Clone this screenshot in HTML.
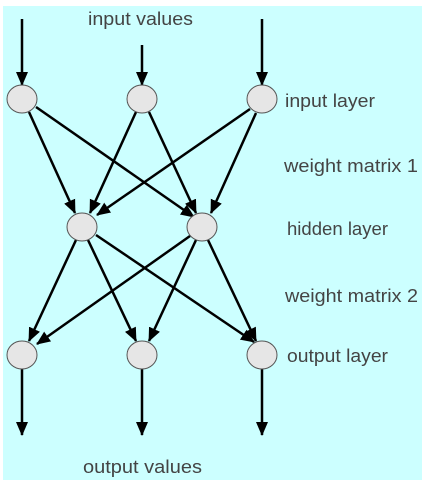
<!DOCTYPE html>
<html><head><style>
html,body{margin:0;padding:0;background:#fff;}
svg{display:block}
text{font-family:"Liberation Sans",sans-serif;font-size:18px;fill:#444;}
</style></head><body>
<svg width="428" height="486" viewBox="0 0 428 486">
<defs>
<marker id="b" markerWidth="14" markerHeight="14" refX="13" refY="7" orient="auto" markerUnits="userSpaceOnUse" viewBox="0 0 14 14"><path d="M0,1 L14,7 L0,13 z" fill="#000"/></marker></defs>
<rect x="3" y="6" width="419" height="474" fill="#ccffff"/>
<g stroke="#000" stroke-width="2.5" fill="none" marker-end="url(#b)">
<line x1="22" y1="19" x2="22" y2="85"/>
<line x1="142" y1="45" x2="142" y2="85"/>
<line x1="262" y1="19" x2="262" y2="85"/>
<line x1="29" y1="112" x2="75" y2="213"/>
<line x1="36" y1="107" x2="194" y2="217"/>
<line x1="136" y1="112" x2="90" y2="213"/>
<line x1="149" y1="112" x2="196" y2="213"/>
<line x1="250" y1="109" x2="97" y2="215"/>
<line x1="256" y1="113" x2="211" y2="213"/>
<line x1="76" y1="240" x2="29" y2="341"/>
<line x1="88" y1="240" x2="136" y2="341"/>
<line x1="96" y1="235" x2="254" y2="342"/>
<line x1="190" y1="236" x2="37" y2="344"/>
<line x1="196" y1="240" x2="149" y2="341"/>
<line x1="208" y1="240" x2="256" y2="341"/>
<line x1="22" y1="369" x2="22" y2="435"/>
<line x1="142" y1="369" x2="142" y2="435"/>
<line x1="262" y1="369" x2="262" y2="435"/>
</g>
<g fill="#e6e6e6" stroke="#555" stroke-width="1">
<ellipse cx="22" cy="99" rx="15" ry="14"/>
<ellipse cx="142" cy="99" rx="15" ry="14"/>
<ellipse cx="262" cy="99" rx="15" ry="14"/>
<ellipse cx="82" cy="227" rx="15" ry="14"/>
<ellipse cx="202" cy="227" rx="15" ry="14"/>
<ellipse cx="22" cy="355" rx="15" ry="14"/>
<ellipse cx="142" cy="355" rx="15" ry="14"/>
<ellipse cx="262" cy="355" rx="15" ry="14"/>
</g>
<text x="88" y="25" textLength="105" lengthAdjust="spacingAndGlyphs">input values</text>
<text x="285" y="107" textLength="90" lengthAdjust="spacingAndGlyphs">input layer</text>
<text x="284" y="172" textLength="134" lengthAdjust="spacingAndGlyphs">weight matrix 1</text>
<text x="287" y="235" textLength="101" lengthAdjust="spacingAndGlyphs">hidden layer</text>
<text x="285" y="302" textLength="133" lengthAdjust="spacingAndGlyphs">weight matrix 2</text>
<text x="287" y="362" textLength="101" lengthAdjust="spacingAndGlyphs">output layer</text>
<text x="83" y="473" textLength="119" lengthAdjust="spacingAndGlyphs">output values</text>
</svg>
</body></html>
